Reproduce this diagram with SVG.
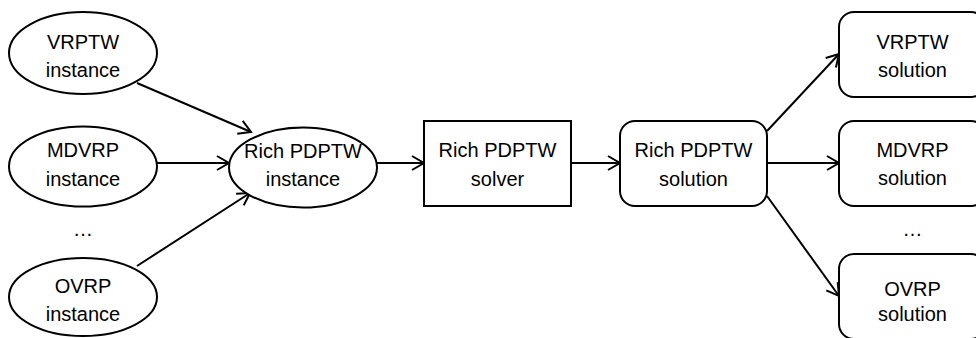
<svg xmlns="http://www.w3.org/2000/svg" width="976" height="338" viewBox="0 0 976 338">
  <style>
    .shape { fill: #ffffff; stroke: #000000; stroke-width: 2; }
    .edge { fill: none; stroke: #000000; stroke-width: 2; marker-end: url(#open-arrow); }
    .label { font-family: "Liberation Sans", Arial, sans-serif; font-size: 20px; fill: #000000; text-anchor: middle; }
  </style>
  <defs>
    <marker id="open-arrow" markerUnits="userSpaceOnUse" viewBox="0 0 14 16" refX="13" refY="8" markerWidth="14" markerHeight="16" orient="auto" overflow="visible">
      <path d="M1,1 L13,8 L1,15" fill="none" stroke="#000000" stroke-width="2" stroke-linejoin="miter"/>
    </marker>
  </defs>

  <rect width="976" height="338" fill="#ffffff"/>

  <!-- connectors -->
  <g id="connectors">
    <line class="edge" x1="137" y1="83" x2="251" y2="132"/>
    <line class="edge" x1="157" y1="163" x2="229" y2="163"/>
    <line class="edge" x1="137" y1="266" x2="250" y2="193"/>
    <line class="edge" x1="377" y1="163" x2="424" y2="163"/>
    <line class="edge" x1="571" y1="163" x2="620" y2="163"/>
    <line class="edge" x1="767" y1="131" x2="839" y2="54"/>
    <line class="edge" x1="767" y1="163" x2="839" y2="163"/>
    <line class="edge" x1="767" y1="196" x2="839" y2="296"/>
  </g>

  <!-- input instances -->
  <g id="vrptw-instance">
    <ellipse class="shape" cx="83" cy="53" rx="74" ry="41"/>
    <text class="label" x="83" y="49">VRPTW</text>
    <text class="label" x="83" y="77">instance</text>
  </g>
  <g id="mdvrp-instance">
    <ellipse class="shape" cx="83" cy="166.5" rx="74" ry="40"/>
    <text class="label" x="83" y="157">MDVRP</text>
    <text class="label" x="83" y="185.5">instance</text>
  </g>
  <text class="label" x="83" y="236">…</text>
  <g id="ovrp-instance">
    <ellipse class="shape" cx="83" cy="297" rx="74" ry="39"/>
    <text class="label" x="83" y="293">OVRP</text>
    <text class="label" x="83" y="321">instance</text>
  </g>

  <!-- unified model and solver -->
  <g id="rich-instance">
    <ellipse class="shape" cx="303" cy="167.5" rx="74" ry="40"/>
    <text class="label" x="303" y="157.5">Rich PDPTW</text>
    <text class="label" x="303" y="186">instance</text>
  </g>
  <g id="rich-solver">
    <rect class="shape" x="424" y="121" width="147" height="85"/>
    <text class="label" x="497.5" y="157">Rich PDPTW</text>
    <text class="label" x="497.5" y="186">solver</text>
  </g>
  <g id="rich-solution">
    <rect class="shape" x="620" y="121" width="147" height="85" rx="15" ry="15"/>
    <text class="label" x="693.5" y="157">Rich PDPTW</text>
    <text class="label" x="693.5" y="186">solution</text>
  </g>

  <!-- output solutions -->
  <g id="vrptw-solution">
    <rect class="shape" x="839" y="12" width="147" height="85" rx="15" ry="15"/>
    <text class="label" x="912.5" y="49">VRPTW</text>
    <text class="label" x="912.5" y="76.5">solution</text>
  </g>
  <g id="mdvrp-solution">
    <rect class="shape" x="839" y="121" width="147" height="85" rx="15" ry="15"/>
    <text class="label" x="912.5" y="157">MDVRP</text>
    <text class="label" x="912.5" y="185">solution</text>
  </g>
  <text class="label" x="912.5" y="236">…</text>
  <g id="ovrp-solution">
    <rect class="shape" x="839" y="254" width="147" height="85" rx="15" ry="15"/>
    <text class="label" x="912.5" y="296">OVRP</text>
    <text class="label" x="912.5" y="321">solution</text>
  </g>
</svg>
